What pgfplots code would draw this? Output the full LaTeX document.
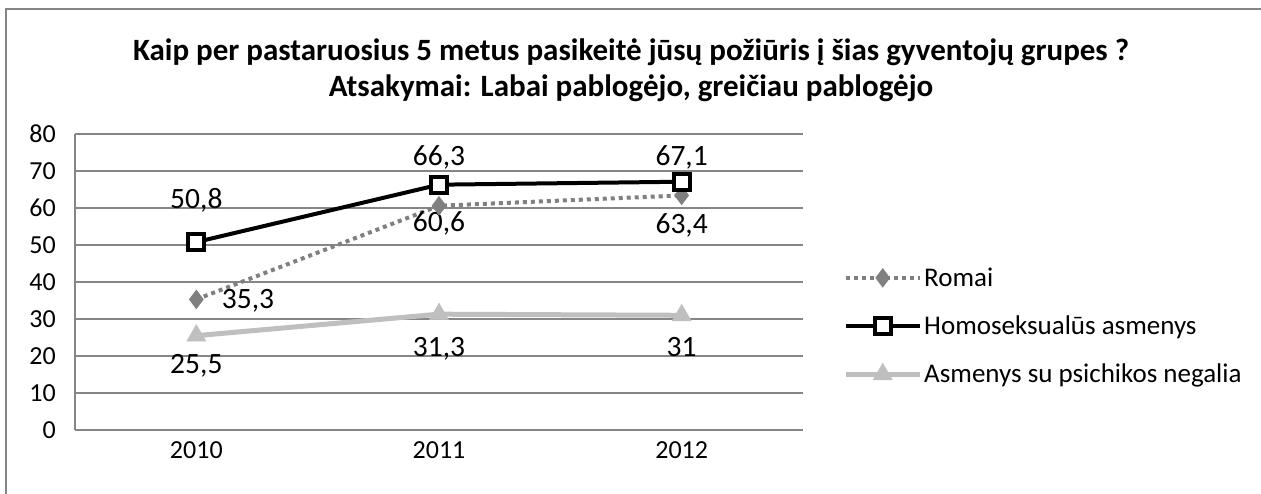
\documentclass[border=0pt]{standalone}
\usepackage{pgfplots}
\pgfplotsset{compat=1.18}
\usepackage{fontspec}
\setmainfont{Carlito}
\definecolor{gridc}{HTML}{868686}
\definecolor{romai}{HTML}{808080}
\definecolor{negal}{HTML}{BFBFBF}
\begin{document}
\begin{tikzpicture}[x=1pt,y=1pt]
\path[use as bounding box] (0,0) rectangle (1261,493);
\draw[gridc, line width=1.2pt] (6,-5) -- (6,484) -- (1270,484);
\node[font=\fontsize{31}{36}\selectfont\bfseries] at (631,441) {Kaip per pastaruosius 5 metus pasikeitė jūsų požiūris į šias gyventojų grupes ?};
\node[font=\fontsize{31}{36}\selectfont\bfseries] at (631,405) {Atsakymai: Labai pablogėjo, greičiau pablogėjo};
\begin{axis}[
  at={(75pt,63pt)}, anchor=south west,
  scale only axis, width=728pt, height=296pt,
  xmin=-0.5, xmax=2.5, ymin=0, ymax=80,
  ytick={0,10,...,80}, xtick={0,1,2}, xticklabels={2010,2011,2012},
  axis x line*=bottom, axis y line*=left,
  axis line style={draw=gridc, line width=1.5pt, -},
  xtick pos=bottom, ytick pos=left,
  major tick length=0pt, tick style={draw=none},
  ymajorgrids, grid style={draw=gridc, line width=1.5pt},
  xticklabel style={font=\fontsize{26}{30}\selectfont, inner sep=0pt},
  yticklabel style={font=\fontsize{26}{30}\selectfont, inner sep=0pt},
  /pgf/number format/assume math mode=true,
  yticklabel shift=19pt, xticklabel shift=11pt,
  clip=false,
  legend style={draw=none, fill=none, at={(1.055,0.351)}, anchor=west,
    font=\fontsize{27}{31}\selectfont, row sep=24pt, inner sep=0pt,
    legend cell align=left, nodes={inner sep=2pt}},
  legend image code/.code={\draw[mark repeat=2,mark phase=2] plot coordinates {(0pt,0pt) (37pt,0pt) (74pt,0pt)};},
]
\addplot[romai, line width=4pt, dash pattern=on 4pt off 4pt, mark=diamond*, mark size=9pt, mark options={solid, fill=romai, draw=romai, line width=1pt}]
  coordinates {(0,35.3) (1,60.6) (2,63.4)};
\addlegendentry{Romai}
\addplot[black, line width=4pt, mark=square*, mark size=8pt, mark options={fill=white, draw=black, line width=4pt}]
  coordinates {(0,50.8) (1,66.3) (2,67.1)};
\addlegendentry{Homoseksualūs asmenys}
\addplot[negal, line width=5pt, mark=triangle*, mark size=11pt, mark options={fill=negal, draw=negal, line width=0.5pt}]
  coordinates {(0,25.5) (1,31.3) (2,31)};
\addlegendentry{Asmenys su psichikos negalia}
\begin{scope}[every node/.style={font=\fontsize{29.5}{34}\selectfont}]
\node at (axis cs:0,62.2) {50,8};
\node at (axis cs:1,73.8) {66,3};
\node at (axis cs:2,73.6) {67,1};
\node at (axis cs:1,55.7) {60,6};
\node at (axis cs:2,55.4) {63,4};
\node at (axis cs:0.213,34.9) {35,3};
\node at (axis cs:0,17.3) {25,5};
\node at (axis cs:1,21.9) {31,3};
\node at (axis cs:2,22.3) {31};
\end{scope}
\end{axis}
\fill[white] (794,64) rectangle (810,358.2);
\foreach \k in {1,...,8} {\draw[gridc, line width=1.5pt] (793,63+\k*37) -- (803,63+\k*37);}
\end{tikzpicture}
\end{document}
